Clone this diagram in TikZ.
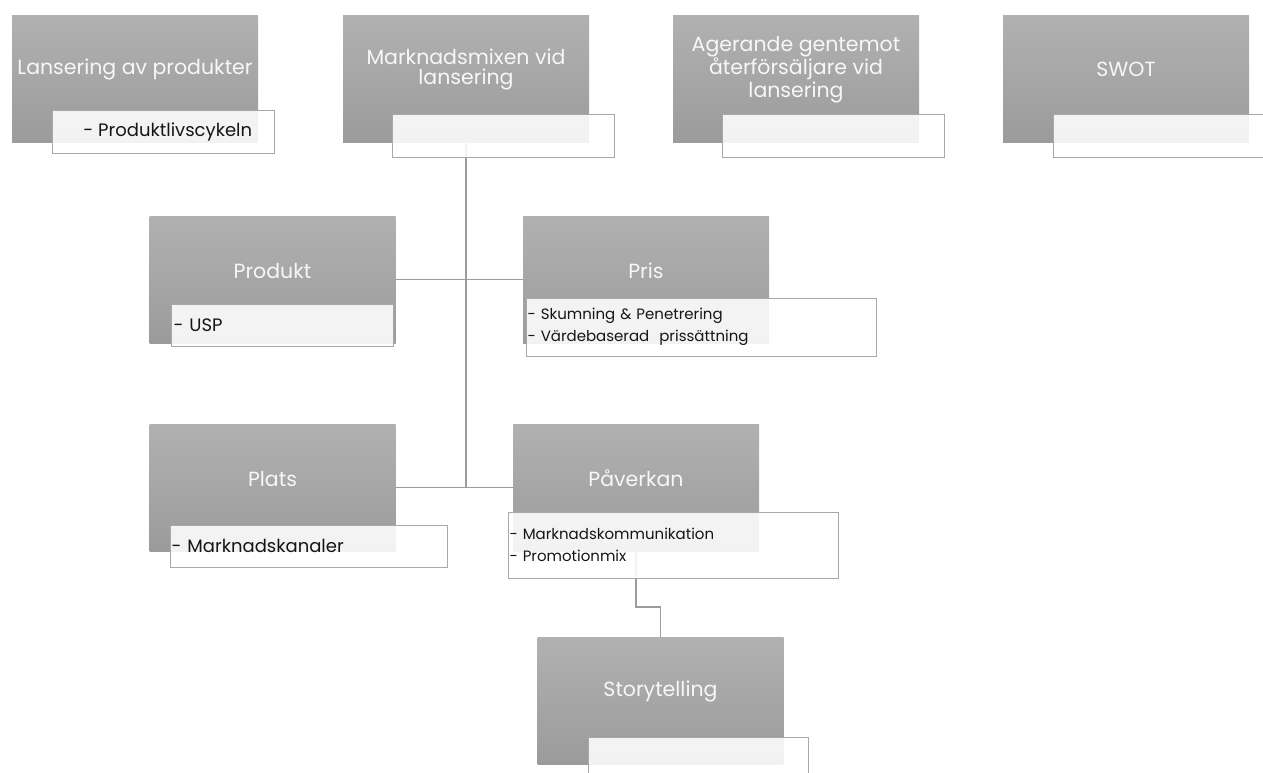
\documentclass[tikz,border=0pt]{standalone}
\usepackage{fontspec}
\setmainfont{Poppins}
\usepackage{tikz}
\usetikzlibrary{positioning}
\definecolor{gratopp}{HTML}{B1B1B1}
\definecolor{grabotten}{HTML}{9B9B9B}
\definecolor{ramgra}{HTML}{A8A8A8}
\definecolor{linjegra}{HTML}{9C9C9C}
\definecolor{ljus}{HTML}{F7F7F7}
\definecolor{skrift}{HTML}{151515}

\begin{document}
\begin{tikzpicture}[x=1pt,y=-1pt,
  ruta/.style={minimum width=246pt,minimum height=127pt,inner sep=0pt,top color=gratopp,bottom color=grabotten},
  rubrik/.style={font=\fontsize{20.5}{20}\selectfont,text=ljus,align=center,yshift=9pt},
  lapp/.style={draw=ramgra,line width=0.8pt,fill=white,fill opacity=0.88,text opacity=1,text=skrift,font=\fontsize{15}{21.5}\selectfont,inner xsep=1.5pt,inner ysep=0pt,minimum width=222pt,minimum height=43pt},
  stor/.style={font=\fontsize{18}{21.5}\selectfont},
  linje/.style={linjegra,line width=1.5pt}]
\clip (0,0) rectangle (1263,772);
% grå rutor
\node[ruta,label={[rubrik]center:Lansering av produkter}] (lans) at (135,78.5) {};
\node[ruta,label={[rubrik]center:{Marknadsmixen vid\\lansering}}] (mix) at (466,78.5) {};
\node[ruta,label={[rubrik,font=\fontsize{20.5}{23}\selectfont]center:{Agerande gentemot\\återförsäljare vid\\lansering}}] (ager) at (796,78.5) {};
\node[ruta,label={[rubrik]center:SWOT}] (swot) at (1126,78.5) {};
\node[ruta,label={[rubrik]center:Produkt}] (prod) at (272.5,279.5) {};
\node[ruta,label={[rubrik]center:Pris}] (pris) at (646,279.5) {};
\node[ruta,label={[rubrik]center:Plats}] (plats) at (272.5,487.5) {};
\node[ruta,label={[rubrik]center:Påverkan}] (pav) at (636,487.5) {};
\node[ruta,label={[rubrik]center:Storytelling}] (story) at (660.5,700.5) {};
% linjer
\draw[linje] (mix.south) -- (mix.south |- plats.east);
\draw[linje] (prod.east) -- (pris.west);
\draw[linje] (plats.east) -- (pav.west);
\draw[linje] (pav.south) -- ++(0,56) -| (story.north);
% vita lappar
\node[lapp,stor] (lansL) at (163,131.5) {~~- Produktlivscykeln};
\node[lapp] (mixL) at (503,135.5) {};
\node[lapp] (agerL) at (833,135.5) {};
\node[lapp] (swotL) at (1164,135.5) {};
\node[lapp,stor,text width=218pt,align=left,minimum height=42pt] (prodL) at (282.5,325) {- USP};
\node[lapp,text width=347pt,align=left,minimum height=58pt] (prisL) at (701,327) {- Skumning \& Penetrering\\- Värdebaserad~ prissättning};
\node[lapp,stor,text width=274pt,align=left,minimum height=42pt] (platsL) at (308.5,546) {- Marknadskanaler};
\node[lapp,text width=327pt,align=left,minimum height=66pt] (pavL) at (673,545) {- Marknadskommunikation\\- Promotionmix};
\node[lapp,minimum width=220pt] (storyL) at (698,758.5) {};
\end{tikzpicture}
\end{document}
